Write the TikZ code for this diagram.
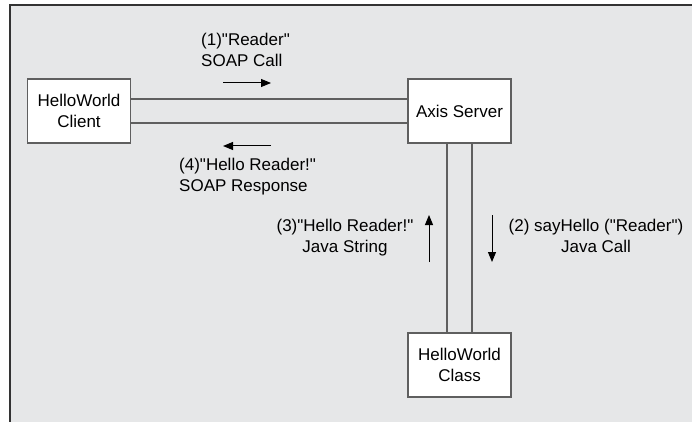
\documentclass[tikz,border=0pt]{standalone}
\usepackage{fontspec}
\setmainfont{Liberation Sans}[Ligatures=TeXOff]
\usetikzlibrary{arrows.meta}
\definecolor{fond}{RGB}{230,231,232}
\definecolor{trait}{RGB}{95,95,95}
\begin{document}
\begin{tikzpicture}[x=1pt, y=-1pt, font=\fontsize{17}{21}\selectfont]
\tikzset{boite/.style={draw=trait, line width=1.3pt, fill=white, minimum width=103pt, minimum height=64pt, align=center, inner sep=2pt}}
\tikzset{fil/.style={draw=trait, line width=1.3pt}}
\tikzset{fleche/.style={-{Triangle[length=10pt, width=8pt]}, line width=1pt}}
\tikzset{legende/.style={inner sep=0pt}}
\useasboundingbox (0,0) rectangle (692,422);
\fill[fond] (10,5) rectangle (692,422);
\draw[line width=1.5pt, black!80] (10,422) -- (10,5) -- (692,5);
\node[boite] (client) at (79,111) {HelloWorld\\Client};
\node[boite] (serveur) at (459.5,111) {Axis Server};
\node[boite] (classe) at (459.5,365) {HelloWorld\\Class};
\draw[fil] ([yshift=-12pt]client.east) -- ([yshift=-12pt]serveur.west);
\draw[fil] ([yshift=12pt]client.east) -- ([yshift=12pt]serveur.west);
\draw[fil] ([xshift=-12.5pt]serveur.south) -- ([xshift=-12.5pt]classe.north);
\draw[fil] ([xshift=12.5pt]serveur.south) -- ([xshift=12.5pt]classe.north);
\coordinate (A1) at (223,83);
\coordinate (B1) at (271,83);
\coordinate (A4) at (271,146);
\coordinate (B4) at (223,146);
\coordinate (A3) at (429,262);
\coordinate (B3) at (429,215);
\coordinate (A2) at (492,215);
\coordinate (B2) at (492,262);
\draw[fleche] (A1) -- (B1);
\draw[fleche] (A4) -- (B4);
\draw[fleche] (A3) -- (B3);
\draw[fleche] (A2) -- (B2);
\node[legende, anchor=north west, align=left] (l1) at (201,33) {(1)"Reader"\\SOAP Call};
\node[legende, anchor=north west, align=left] (l4) at (179,158) {(4)"Hello Reader!"\\SOAP Response};
\node[legende, anchor=north, align=center] (l3) at (345,219) {(3)"Hello Reader!"\\Java String};
\node[legende, anchor=north, align=center] (l2) at (596,219) {(2) sayHello ("Reader")\\Java Call};
\end{tikzpicture}
\end{document}
